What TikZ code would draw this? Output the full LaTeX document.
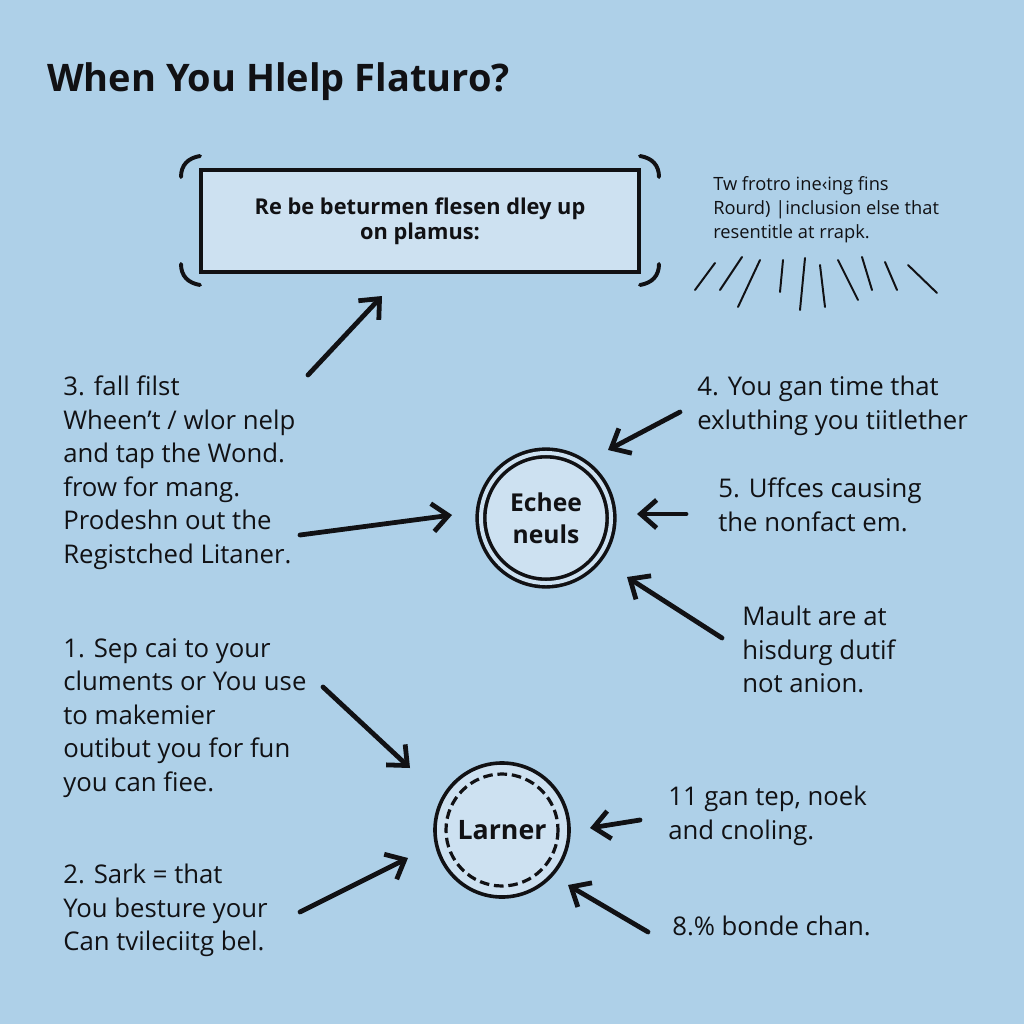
\documentclass[tikz,border=0pt]{standalone}
\usepackage{fontspec}
\setmainfont{Open Sans}
\usetikzlibrary{arrows.meta}

\definecolor{skyback}{RGB}{174,208,232}
\definecolor{paleblue}{RGB}{205,225,241}
\definecolor{ink}{RGB}{17,17,20}

\begin{document}
\begin{tikzpicture}[x=0.025cm, y=-0.025cm, >={Straight Barb[length=4mm,width=7mm]},
    note/.style={anchor=north west, inner sep=0pt, align=left, text=ink, font=\fontsize{18.3}{23.8}\selectfont},
    small note/.style={note, font=\fontsize{13}{17}\selectfont},
    pointer/.style={->, draw=ink, line width=3.4pt, line cap=round},
    ray/.style={draw=ink, line width=1.4pt, line cap=round},
    bracket/.style={draw=ink, line width=2.8pt, line cap=round},
    hub/.style={circle, draw=ink, fill=paleblue, text=ink, align=center, font=\bfseries\fontsize{17.5}{22.5}\selectfont}]

    % Background
    \fill[skyback] (0,0) rectangle (1024,1024);
    \useasboundingbox (0,0) rectangle (1024,1024);

    % Title
    \node[anchor=north west, inner sep=0pt, text=ink, font=\bfseries\fontsize{27}{31}\selectfont] (title) at (47,62) {When You Hlelp Flaturo?};

    % Framed statement
    \node[draw=ink, line width=1mm, fill=paleblue, text=ink, minimum width=109.5mm, minimum height=25.5mm,
          align=center, font=\bfseries\fontsize{15.5}{18}\selectfont] (claim) at (420,221)
          {Re be beturmen flesen dley up\\on plamus:};
    \draw[bracket] (200,156) .. controls (188,158) and (181,165) .. (181,177);
    \draw[bracket] (181,264) .. controls (181,276) and (188,283) .. (200,285);
    \draw[bracket] (640,156) .. controls (652,158) and (659,165) .. (659,177);
    \draw[bracket] (659,264) .. controls (659,276) and (652,283) .. (640,285);

    % Side remark with rays
    \node[small note] (remark) at (713,176) {Tw frotro ine‹ing fins\\Rourd) |inclusion else that\\resentitle at rrapk.};
    \draw[ray] (715,263) -- (695,290);
    \draw[ray] (742,257) -- (720,290);
    \draw[ray] (760,260) -- (738,307);
    \draw[ray] (783,260) -- (780,292);
    \draw[ray] (805,258) -- (800,310);
    \draw[ray] (820,265) -- (825,307);
    \draw[ray] (838,260) -- (858,300);
    \draw[ray] (862,257) -- (872,290);
    \draw[ray] (885,262) -- (897,290);
    \draw[ray] (908,265) -- (937,293);

    % Hubs
    \node[hub, double=paleblue, double distance=1mm, line width=0.9mm, minimum size=32.5mm] (echee) at (546,518) {Echee\\neuls};
    \node[hub, line width=0.9mm, minimum size=33.5mm, font=\bfseries\fontsize{19}{22}\selectfont] (larner) at (502,830) {Larner};
    \draw[draw=ink, line width=0.8mm, dash pattern=on 2.4mm off 1.2mm] (larner.center) circle (56);

    % Notes
    \node[note] (step3) at (63,376) {3. fall filst\\Wheen't / wlor nelp\\and tap the Wond.\\frow for mang.\\Prodeshn out the\\Registched Litaner.};
    \node[note] (step4) at (697,376) {4. You gan time that\\exluthing you tiitlether};
    \node[note] (step5) at (718,478) {5. Uffces causing\\the nonfact em.};
    \node[note] (step6) at (742,606) {Mault are at\\hisdurg dutif\\not anion.};
    \node[note] (step1) at (63,638) {1. Sep cai to your\\cluments or You use\\to makemier\\outibut you for fun\\you can fiee.};
    \node[note] (step2) at (63,864) {2. Sark = that\\You besture your\\Can tvileciitg bel.};
    \node[note] (step11) at (668,786) {11 gan tep, noek\\and cnoling.};
    \node[note] (step8) at (672,916) {8.\% bonde chan.};

    % Arrow ends
    \coordinate (s0) at (308,375);  \coordinate (e0) at (382,296);
    \coordinate (s3) at (300,535);  \coordinate (e3) at (452,515);
    \coordinate (s4) at (680,412);  \coordinate (e4) at (608,450);
    \coordinate (s5) at (686,514);  \coordinate (e5) at (637,514);
    \coordinate (s6) at (722,638);  \coordinate (e6) at (627,577);
    \coordinate (s1) at (323,687);  \coordinate (e1) at (410,768);
    \coordinate (s2) at (300,912);  \coordinate (e2) at (408,858);
    \coordinate (s11) at (640,820); \coordinate (e11) at (590,828);
    \coordinate (s8) at (648,932);  \coordinate (e8) at (568,885);

    % Arrows
    \draw[pointer] (s0) -- (e0);
    \draw[pointer] (s3) -- (e3);
    \draw[pointer] (s4) -- (e4);
    \draw[pointer] (s5) -- (e5);
    \draw[pointer] (s6) -- (e6);
    \draw[pointer] (s1) -- (e1);
    \draw[pointer] (s2) -- (e2);
    \draw[pointer] (s11) -- (e11);
    \draw[pointer] (s8) -- (e8);
\end{tikzpicture}
\end{document}
